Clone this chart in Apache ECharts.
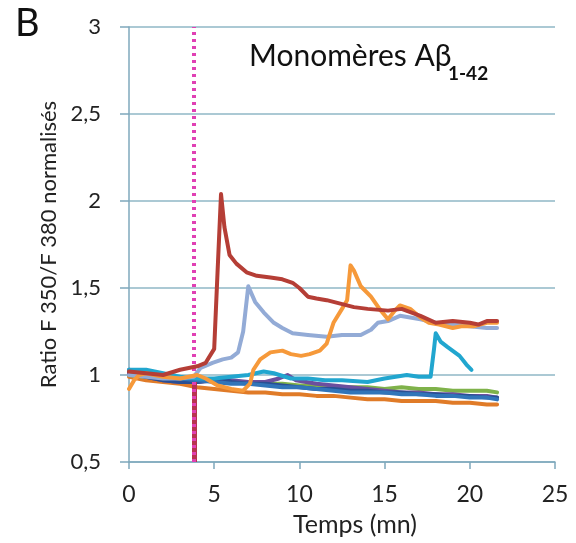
<!DOCTYPE html>
<html><head><meta charset="utf-8">
<script src="https://cdn.jsdelivr.net/npm/echarts@6/dist/echarts.min.js"></script>
<style>html,body{margin:0;padding:0;background:#fff}#c{width:576px;height:543px}</style>
</head><body><div id="c"></div>
<script>
const xTicks = [0, 5, 10, 15, 20, 25];
const yTicks = [0.5, 1, 1.5, 2, 2.5, 3];
const injectionTime = 3.8;

const redSeries = [[0,1.02],[1,1.01],[2,1.0],[3,1.03],[3.5,1.04],[4,1.05],[4.5,1.07],[5,1.15],[5.2,1.6],[5.4,2.04],[5.6,1.85],[5.9,1.69],[6.3,1.64],[6.9,1.59],[7.5,1.57],[8.3,1.56],[9,1.55],[9.6,1.53],[10,1.5],[10.5,1.45],[11,1.44],[11.6,1.43],[12.4,1.41],[13.2,1.39],[14,1.38],[15.2,1.37],[16,1.38],[17.1,1.34],[18,1.3],[19,1.31],[20,1.3],[20.5,1.29],[21,1.31],[21.6,1.31]];
const lightBlueSeries = [[0,1.0],[1,0.99],[2,0.98],[3,0.98],[3.8,0.99],[4.2,1.04],[4.9,1.07],[5.5,1.09],[6,1.1],[6.4,1.13],[6.7,1.25],[7.0,1.51],[7.4,1.42],[7.9,1.36],[8.5,1.3],[9,1.27],[9.6,1.24],[10.5,1.23],[11.6,1.22],[12.5,1.23],[13.6,1.23],[14.2,1.26],[14.6,1.3],[15.2,1.31],[15.9,1.34],[16.5,1.33],[17.1,1.32],[18,1.3],[19,1.29],[20,1.28],[21,1.27],[21.6,1.27]];
const orangeSeries = [[0,0.92],[0.3,0.97],[0.6,1.0],[1,1.01],[2,0.99],[3,0.98],[4,1.0],[4.5,0.98],[5.2,0.94],[6,0.92],[6.7,0.91],[7.1,0.95],[7.3,1.03],[7.7,1.09],[8.3,1.13],[9,1.14],[9.5,1.12],[10.1,1.11],[10.6,1.12],[11.2,1.14],[11.6,1.18],[12.0,1.30],[12.5,1.38],[12.8,1.43],[13.0,1.63],[13.2,1.6],[13.6,1.51],[14.2,1.45],[14.7,1.38],[15.2,1.32],[15.6,1.37],[15.9,1.40],[16.5,1.38],[17.1,1.33],[17.6,1.3],[18.2,1.29],[19,1.27],[19.5,1.28],[20.2,1.28],[21,1.3],[21.6,1.3]];
const cyanSeries = [[0,1.03],[1,1.03],[2,1.01],[3,0.99],[4,0.98],[5,0.98],[6,0.99],[7,1.0],[7.9,1.02],[8.5,1.01],[9.5,0.98],[10.5,0.98],[11.5,0.97],[12.5,0.97],[14,0.96],[15,0.98],[16.3,1.0],[17,0.99],[17.7,0.99],[17.9,1.15],[18.0,1.24],[18.3,1.19],[18.7,1.16],[19.4,1.11],[19.8,1.06],[20.1,1.03]];
const greenSeries = [[0,1.0],[1,0.99],[2,0.98],[3,0.97],[4,0.97],[5,0.97],[6,0.96],[7,0.96],[8,0.95],[9,0.95],[10,0.94],[11,0.94],[12,0.93],[13,0.93],[14,0.93],[15,0.92],[16,0.93],[17,0.92],[18,0.92],[19,0.91],[20,0.91],[21,0.91],[21.6,0.9]];
const purpleSeries = [[0,1.01],[1,0.99],[2,0.97],[3,0.96],[4,0.96],[5,0.97],[6,0.97],[7,0.96],[8,0.96],[8.8,0.98],[9.3,1.0],[9.8,0.97],[11,0.95],[12,0.94],[13,0.93],[14,0.92],[15,0.91],[16,0.9],[17,0.9],[18,0.89],[19,0.89],[20,0.88],[21,0.88],[21.6,0.87]];
const darkBlueSeries = [[0,1.02],[1,0.99],[2,0.97],[3,0.96],[4,0.96],[5,0.97],[5.5,0.98],[6,0.96],[7,0.95],[8,0.95],[9,0.94],[10,0.93],[11,0.92],[12,0.92],[13,0.91],[14,0.91],[15,0.9],[16,0.9],[17,0.89],[18,0.89],[19,0.88],[20,0.88],[21,0.87],[21.6,0.87]];
const blueSeries = [[0,1.03],[1,1.01],[2,0.99],[3,0.98],[4,0.97],[5,0.96],[6,0.95],[7,0.95],[8,0.94],[9,0.93],[10,0.93],[11,0.92],[12,0.91],[13,0.9],[14,0.9],[15,0.9],[16,0.89],[17,0.89],[18,0.88],[19,0.88],[20,0.87],[21,0.87],[21.6,0.86]];
const darkOrangeSeries = [[0,0.99],[1,0.97],[2,0.96],[3,0.95],[4,0.93],[5,0.92],[6,0.91],[7,0.9],[8,0.9],[9,0.89],[10,0.89],[11,0.88],[12,0.88],[13,0.87],[14,0.86],[15,0.86],[16,0.85],[17,0.85],[18,0.85],[19,0.84],[20,0.84],[21,0.83],[21.6,0.83]];

const chart = echarts.init(document.getElementById('c'), null, {renderer:'canvas'});
const FONT = 'Lato';
const gridCol = '#8fb7c6';
function line(name, data, color, z){
  return {name, type:'line', data, showSymbol:false, symbol:'none', z: z||2,
    lineStyle:{color, width:4, cap:'round', join:'round'}, itemStyle:{color}};
}
const series = [
  line('darkOrange', darkOrangeSeries, '#e07b28', 2),
  line('green', greenSeries, '#7fb24a', 2),
  line('purple', purpleSeries, '#6b4f9e', 3),
  line('darkBlue', darkBlueSeries, '#2a4f93', 3),
  line('blue', blueSeries, '#3175b9', 3),
  line('cyan', cyanSeries, '#21a6cf', 4),
  line('lightBlue', lightBlueSeries, '#93abd6', 5),
  line('orange', orangeSeries, '#f6993a', 6),
  line('red', redSeries, '#b53e36', 7),
  {type:'line', data:[], z:9, markLine:{symbol:'none', silent:true, label:{show:false},
    data:[
      [{coord:[injectionTime,0.5]},{coord:[injectionTime,0.96]}]
    ], lineStyle:{color:'#b8334f', width:5, type:'solid'}}},
  {type:'line', data:[], z:10, markLine:{symbol:'none', silent:true, label:{show:false},
    data:[
      [{coord:[injectionTime,0.5]},{coord:[injectionTime,3]}]
    ], lineStyle:{color:'#e040b4', width:4, type:[3,4]}}}
];
chart.setOption({
  animation:false,
  backgroundColor:'#fff',
  grid:{left:129, right:21, top:27, bottom:81, containLabel:false},
  title:[
    {text:'B', left:10, top:0, textStyle:{fontFamily:FONT, fontSize:38, fontWeight:'normal', color:'#111'}},
    {text:'Monomères Aβ', left:244, top:36, textStyle:{fontFamily:FONT, fontSize:30, fontWeight:'normal', color:'#111'}},
    {text:'1-42', left:443, top:59, textStyle:{fontFamily:FONT, fontSize:19, fontWeight:'bold', color:'#111'}}
  ],
  xAxis:{type:'value', min:0, max:25, interval:5,
    name:'Temps (mn)', nameLocation:'middle', nameGap:50,
    nameTextStyle:{fontFamily:FONT, fontSize:25, color:'#222', padding:[0,0,0,26]},
    axisLine:{show:true, onZero:false, lineStyle:{color:'#7fa8bc', width:1.5}},
    axisTick:{show:true, length:7, lineStyle:{color:'#7fa8bc', width:1.5}},
    axisLabel:{fontFamily:FONT, fontSize:23, color:'#222', margin:21},
    splitLine:{show:false}},
  yAxis:{type:'value', min:0.5, max:3, interval:0.5,
    name:'Ratio F 350/F 380 normalisés', nameLocation:'middle', nameGap:45, nameRotate:90,
    nameTextStyle:{fontFamily:FONT, fontSize:22, color:'#222'},
    axisLine:{show:true, lineStyle:{color:'#7fa8bc', width:1.5}},
    axisTick:{show:true, length:9, inside:false, lineStyle:{color:'#7fa8bc', width:1.5}},
    axisLabel:{fontFamily:FONT, fontSize:22, color:'#222', margin:28,
      formatter:v=>String(v).replace('.',',')},
    splitLine:{show:true, lineStyle:{color:gridCol, width:1.5}}},
  series
});
</script></body></html>
